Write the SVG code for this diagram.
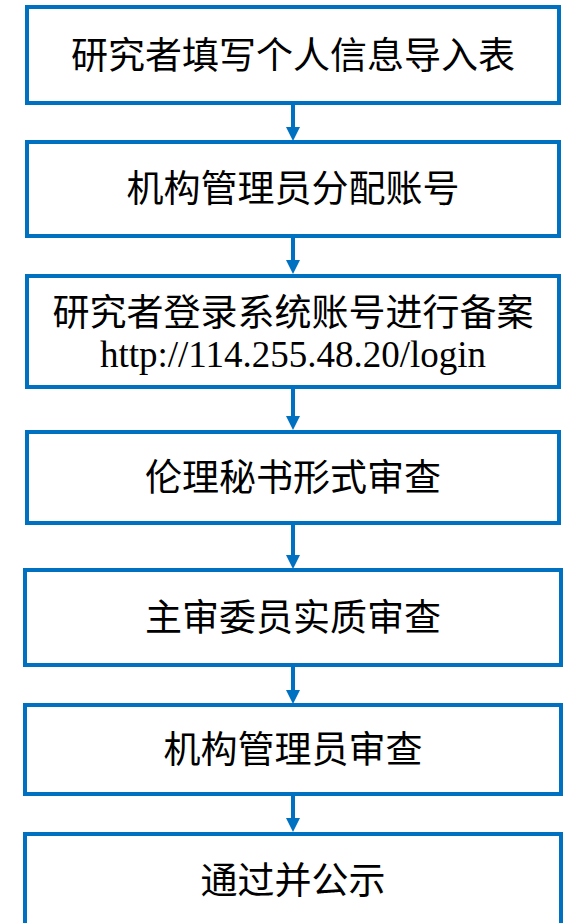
<svg xmlns="http://www.w3.org/2000/svg" width="567" height="923" viewBox="0 0 567 923">
<style>
.box{fill:#ffffff;stroke:#0070C0;stroke-width:4}
.t{font-family:"Liberation Serif","Noto Sans CJK SC",serif;font-size:37px;fill:#000000;text-anchor:middle}
.u{font-family:"Liberation Serif",serif;font-size:37px;fill:#000000;text-anchor:middle}
.ln{stroke:#0070C0;stroke-width:4;fill:none}
.ah{fill:#0070C0;stroke:none}
</style>
<rect width="567" height="923" fill="#ffffff"/>
<g id="connectors">
<line class="ln" x1="293" y1="103" x2="293" y2="130"/><polygon class="ah" points="286,127 300,127 293,141"/>
<line class="ln" x1="293" y1="236" x2="293" y2="263"/><polygon class="ah" points="286,260 300,260 293,274"/>
<line class="ln" x1="293" y1="387" x2="293" y2="420"/><polygon class="ah" points="286,416 300,416 293,430"/>
<line class="ln" x1="293" y1="523" x2="293" y2="558"/><polygon class="ah" points="286,555 300,555 293,569"/>
<line class="ln" x1="293" y1="665" x2="293" y2="694"/><polygon class="ah" points="286,690 300,690 293,704"/>
<line class="ln" x1="293" y1="794" x2="293" y2="822"/><polygon class="ah" points="286,818 300,818 293,832"/>
</g>
<g id="n1"><rect class="box" x="27" y="7" width="532" height="96"/><text class="t" x="293" y="69">研究者填写个人信息导入表</text></g>
<g id="n2"><rect class="box" x="27" y="142" width="532" height="94"/><text class="t" x="293" y="202">机构管理员分配账号</text></g>
<g id="n3"><rect class="box" x="27" y="276" width="532" height="111"/><text class="t" x="293" y="326">研究者登录系统账号进行备案</text><text class="u" x="293" y="367">http://114.255.48.20/login</text></g>
<g id="n4"><rect class="box" x="27" y="432" width="532" height="91"/><text class="t" x="293" y="491">伦理秘书形式审查</text></g>
<g id="n5"><rect class="box" x="25" y="570" width="536" height="95"/><text class="t" x="293" y="631">主审委员实质审查</text></g>
<g id="n6"><rect class="box" x="25" y="705" width="536" height="89"/><text class="t" x="293" y="763">机构管理员审查</text></g>
<g id="n7"><rect class="box" x="25" y="834" width="536" height="100"/><text class="t" x="293" y="894">通过并公示</text></g>
</svg>
